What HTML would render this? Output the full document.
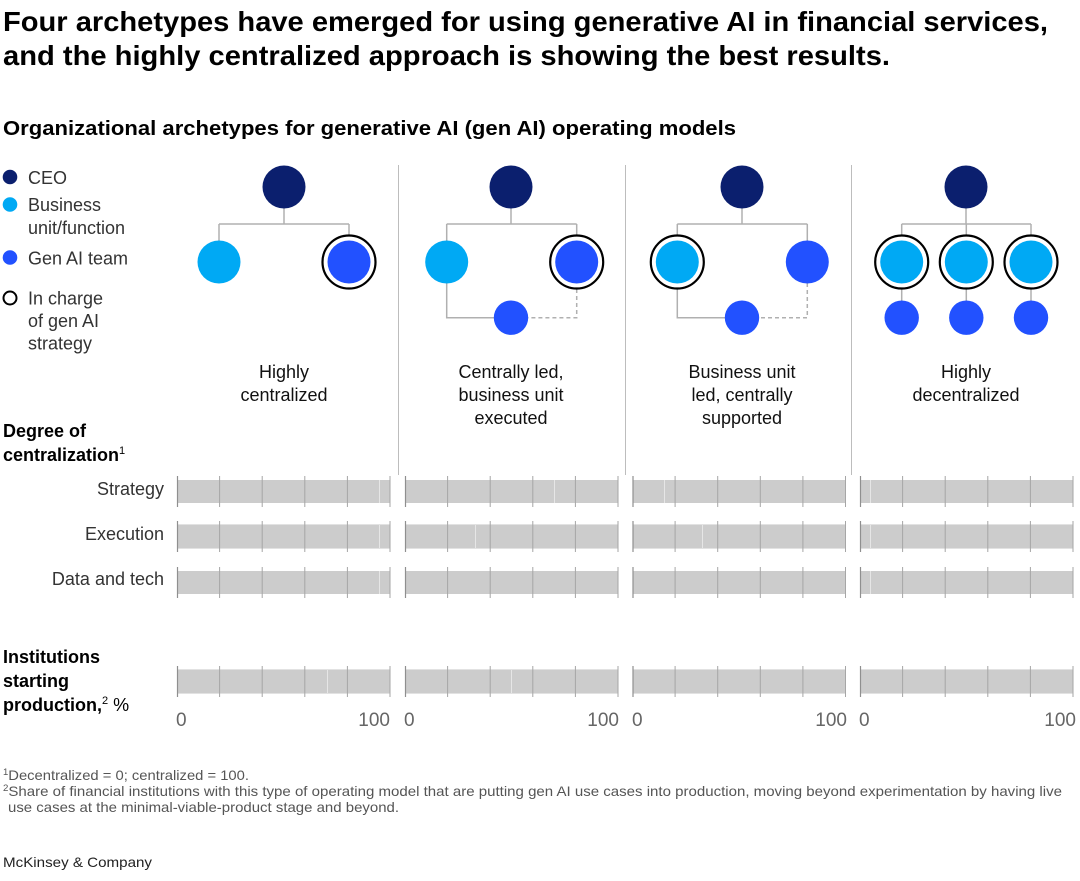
<!DOCTYPE html>
<html>
<head>
<meta charset="utf-8">
<style>
html,body{margin:0;padding:0;background:#fff;}
svg{display:block;}
text{font-family:"Liberation Sans",Arial,sans-serif;}
</style>
</head>
<body>
<svg width="1080" height="881" viewBox="0 0 1080 881" xmlns="http://www.w3.org/2000/svg">
<rect width="1080" height="881" fill="#fff"/>

<!-- Title -->
<text x="3" y="31" font-size="28" font-weight="bold" fill="#000" textLength="1045" lengthAdjust="spacingAndGlyphs">Four archetypes have emerged for using generative AI in financial services,</text>
<text x="3" y="65" font-size="28" font-weight="bold" fill="#000" textLength="887" lengthAdjust="spacingAndGlyphs">and the highly centralized approach is showing the best results.</text>

<text x="3" y="135" font-size="20" font-weight="bold" fill="#000" textLength="733" lengthAdjust="spacingAndGlyphs">Organizational archetypes for generative AI (gen AI) operating models</text>

<!-- Legend -->
<circle cx="10" cy="177" r="7.3" fill="#0b1f6e"/>
<circle cx="10" cy="204.5" r="7.3" fill="#00a9f4"/>
<circle cx="10" cy="257.5" r="7.3" fill="#2251ff"/>
<circle cx="10" cy="298" r="6.5" fill="none" stroke="#000" stroke-width="2"/>
<g font-size="18" fill="#333">
<text x="28" y="184">CEO</text>
<text x="28" y="211">Business</text>
<text x="28" y="234">unit/function</text>
<text x="28" y="264.5">Gen AI team</text>
<text x="28" y="304.5">In charge</text>
<text x="28" y="327">of gen AI</text>
<text x="28" y="349.5">strategy</text>
</g>

<!-- Separators -->
<g stroke="#bdbdbd" stroke-width="1">
<line x1="398.5" y1="165" x2="398.5" y2="475"/>
<line x1="625.5" y1="165" x2="625.5" y2="475"/>
<line x1="851.5" y1="165" x2="851.5" y2="475"/>
</g>

<!-- Diagram 1 -->
<g stroke="#b0b0b0" stroke-width="1.5" fill="none">
<path d="M284 208 V224 M219 224 H349 M219 224 V241 M349 224 V235"/>
</g>
<circle cx="284" cy="187" r="21.5" fill="#0b1f6e"/>
<circle cx="219" cy="262" r="21.5" fill="#00a9f4"/>
<circle cx="349" cy="262" r="21.5" fill="#2251ff"/>
<circle cx="349" cy="262" r="26.5" fill="none" stroke="#000" stroke-width="2.2"/>

<!-- Diagram 2 -->
<g stroke="#b0b0b0" stroke-width="1.5" fill="none">
<path d="M511 208 V224 M446.7 224 H576.7 M446.7 224 V241 M576.7 224 V235"/>
<path d="M446.7 283 V317.7 H494"/>
<path d="M576.7 289 V317.7 H528" stroke-dasharray="4 3"/>
</g>
<circle cx="511" cy="187" r="21.5" fill="#0b1f6e"/>
<circle cx="446.7" cy="262" r="21.5" fill="#00a9f4"/>
<circle cx="576.7" cy="262" r="21.5" fill="#2251ff"/>
<circle cx="576.7" cy="262" r="26.5" fill="none" stroke="#000" stroke-width="2.2"/>
<circle cx="511" cy="317.7" r="17.2" fill="#2251ff"/>

<!-- Diagram 3 -->
<g stroke="#b0b0b0" stroke-width="1.5" fill="none">
<path d="M742 208 V224 M677.3 224 H807.3 M677.3 224 V235 M807.3 224 V241"/>
<path d="M677.3 289 V317.7 H725"/>
<path d="M807.3 283 V317.7 H759" stroke-dasharray="4 3"/>
</g>
<circle cx="742" cy="187" r="21.5" fill="#0b1f6e"/>
<circle cx="677.3" cy="262" r="21.5" fill="#00a9f4"/>
<circle cx="677.3" cy="262" r="26.5" fill="none" stroke="#000" stroke-width="2.2"/>
<circle cx="807.3" cy="262" r="21.5" fill="#2251ff"/>
<circle cx="742" cy="317.7" r="17.2" fill="#2251ff"/>

<!-- Diagram 4 -->
<g stroke="#b0b0b0" stroke-width="1.5" fill="none">
<path d="M966 208 V224 M901.7 224 H1031 M901.7 224 V235 M966.3 224 V235 M1031 224 V235"/>
<path d="M901.7 289 V301 M966.3 289 V301 M1031 289 V301"/>
</g>
<circle cx="966" cy="187" r="21.5" fill="#0b1f6e"/>
<g>
<circle cx="901.7" cy="262" r="21.5" fill="#00a9f4"/>
<circle cx="901.7" cy="262" r="26.5" fill="none" stroke="#000" stroke-width="2.2"/>
<circle cx="966.3" cy="262" r="21.5" fill="#00a9f4"/>
<circle cx="966.3" cy="262" r="26.5" fill="none" stroke="#000" stroke-width="2.2"/>
<circle cx="1031" cy="262" r="21.5" fill="#00a9f4"/>
<circle cx="1031" cy="262" r="26.5" fill="none" stroke="#000" stroke-width="2.2"/>
<circle cx="901.7" cy="317.7" r="17.2" fill="#2251ff"/>
<circle cx="966.3" cy="317.7" r="17.2" fill="#2251ff"/>
<circle cx="1031" cy="317.7" r="17.2" fill="#2251ff"/>
</g>

<!-- Archetype labels -->
<g font-size="18" fill="#111" text-anchor="middle">
<text x="284" y="378">Highly</text>
<text x="284" y="401">centralized</text>
<text x="511" y="378">Centrally led,</text>
<text x="511" y="401">business unit</text>
<text x="511" y="424">executed</text>
<text x="742" y="378">Business unit</text>
<text x="742" y="401">led, centrally</text>
<text x="742" y="424">supported</text>
<text x="966" y="378">Highly</text>
<text x="966" y="401">decentralized</text>
</g>

<!-- Left labels -->
<g font-size="18" font-weight="bold" fill="#000">
<text x="3" y="437">Degree of</text>
<text x="3" y="461">centralization<tspan font-size="11" dy="-7" font-weight="normal">1</tspan></text>
<text x="3" y="663">Institutions</text>
<text x="3" y="687">starting</text>
<text x="3" y="711">production,<tspan font-size="11" dy="-7" font-weight="normal">2</tspan><tspan dy="7" font-weight="normal"> %</tspan></text>
</g>
<g font-size="18" fill="#333" text-anchor="end">
<text x="164" y="495">Strategy</text>
<text x="164" y="540">Execution</text>
<text x="164" y="585">Data and tech</text>
</g>

<!-- Bars -->
<g id="bars">
<g fill="#cccccc">
<rect x="177" y="480" width="213" height="23"/>
<rect x="405" y="480" width="213" height="23"/>
<rect x="632.5" y="480" width="213" height="23"/>
<rect x="860" y="480" width="213" height="23"/>
<rect x="177" y="525" width="213" height="23"/>
<rect x="405" y="525" width="213" height="23"/>
<rect x="632.5" y="525" width="213" height="23"/>
<rect x="860" y="525" width="213" height="23"/>
<rect x="177" y="571" width="213" height="23"/>
<rect x="405" y="571" width="213" height="23"/>
<rect x="632.5" y="571" width="213" height="23"/>
<rect x="860" y="571" width="213" height="23"/>
<rect x="177" y="670" width="213" height="23"/>
<rect x="405" y="670" width="213" height="23"/>
<rect x="632.5" y="670" width="213" height="23"/>
<rect x="860" y="670" width="213" height="23"/>
</g>
<g stroke="#e2e2e2" stroke-width="1">
<path d="M177 524.5 H390 M405 524.5 H618 M632.5 524.5 H845.5 M860 524.5 H1073 M177 548.5 H390 M405 548.5 H618 M632.5 548.5 H845.5 M860 548.5 H1073"/>
<path d="M177 669.5 H390 M405 669.5 H618 M632.5 669.5 H845.5 M860 669.5 H1073 M177 693.5 H390 M405 693.5 H618 M632.5 693.5 H845.5 M860 693.5 H1073"/>
</g>
<g stroke="#e6e6e6" stroke-width="1">
<path d="M379.5 480 V503 M379.5 525 V548 M379.5 571 V594"/>
<path d="M554.5 480 V503 M475.5 525 V548"/>
<path d="M664.5 480 V503 M702.5 525 V548"/>
<path d="M870.5 480 V503 M870.5 525 V548 M870.5 571 V594"/>
<path d="M327.5 670 V693 M511.5 670 V693"/>
</g>
<g stroke="#a6a6a6" stroke-width="1">
<path d="M219.6 476 V507 M262.2 476 V507 M304.8 476 V507 M347.4 476 V507 M390 476 V507
M447.6 476 V507 M490.2 476 V507 M532.8 476 V507 M575.4 476 V507 M618 476 V507
M675.1 476 V507 M717.7 476 V507 M760.3 476 V507 M802.9 476 V507 M845.5 476 V507
M902.6 476 V507 M945.2 476 V507 M987.8 476 V507 M1030.4 476 V507 M1073 476 V507"/>
<path d="M219.6 521 V552 M262.2 521 V552 M304.8 521 V552 M347.4 521 V552 M390 521 V552
M447.6 521 V552 M490.2 521 V552 M532.8 521 V552 M575.4 521 V552 M618 521 V552
M675.1 521 V552 M717.7 521 V552 M760.3 521 V552 M802.9 521 V552 M845.5 521 V552
M902.6 521 V552 M945.2 521 V552 M987.8 521 V552 M1030.4 521 V552 M1073 521 V552"/>
<path d="M219.6 567 V598 M262.2 567 V598 M304.8 567 V598 M347.4 567 V598 M390 567 V598
M447.6 567 V598 M490.2 567 V598 M532.8 567 V598 M575.4 567 V598 M618 567 V598
M675.1 567 V598 M717.7 567 V598 M760.3 567 V598 M802.9 567 V598 M845.5 567 V598
M902.6 567 V598 M945.2 567 V598 M987.8 567 V598 M1030.4 567 V598 M1073 567 V598"/>
<path d="M219.6 666 V697 M262.2 666 V697 M304.8 666 V697 M347.4 666 V697 M390 666 V697
M447.6 666 V697 M490.2 666 V697 M532.8 666 V697 M575.4 666 V697 M618 666 V697
M675.1 666 V697 M717.7 666 V697 M760.3 666 V697 M802.9 666 V697 M845.5 666 V697
M902.6 666 V697 M945.2 666 V697 M987.8 666 V697 M1030.4 666 V697 M1073 666 V697"/>
</g>
<g stroke="#8f8f8f" stroke-width="1.2">
<path d="M177.5 476 V507 M405.5 476 V507 M633 476 V507 M860.5 476 V507"/>
<path d="M177.5 521 V552 M405.5 521 V552 M633 521 V552 M860.5 521 V552"/>
<path d="M177.5 567 V598 M405.5 567 V598 M633 567 V598 M860.5 567 V598"/>
<path d="M177.5 666 V697 M405.5 666 V697 M633 666 V697 M860.5 666 V697"/>
</g>
</g>

<!-- axis labels -->
<g font-size="19" fill="#666">
<text x="176" y="726">0</text>
<text x="390" y="726" text-anchor="end">100</text>
<text x="404" y="726">0</text>
<text x="619" y="726" text-anchor="end">100</text>
<text x="632" y="726">0</text>
<text x="847" y="726" text-anchor="end">100</text>
<text x="859" y="726">0</text>
<text x="1076" y="726" text-anchor="end">100</text>
</g>

<!-- Footnotes -->
<g font-size="14" fill="#555">
<text x="3" y="780" textLength="246" lengthAdjust="spacingAndGlyphs"><tspan font-size="9" dy="-5">1</tspan><tspan dy="5">Decentralized = 0; centralized = 100.</tspan></text>
<text x="3" y="796" textLength="1059" lengthAdjust="spacingAndGlyphs"><tspan font-size="9" dy="-5">2</tspan><tspan dy="5">Share of financial institutions with this type of operating model that are putting gen AI use cases into production, moving beyond experimentation by having live</tspan></text>
<text x="8" y="812" textLength="391" lengthAdjust="spacingAndGlyphs">use cases at the minimal-viable-product stage and beyond.</text>
</g>
<text x="3" y="867" font-size="14" fill="#222" textLength="149" lengthAdjust="spacingAndGlyphs">McKinsey &amp; Company</text>
</svg>
</body>
</html>
